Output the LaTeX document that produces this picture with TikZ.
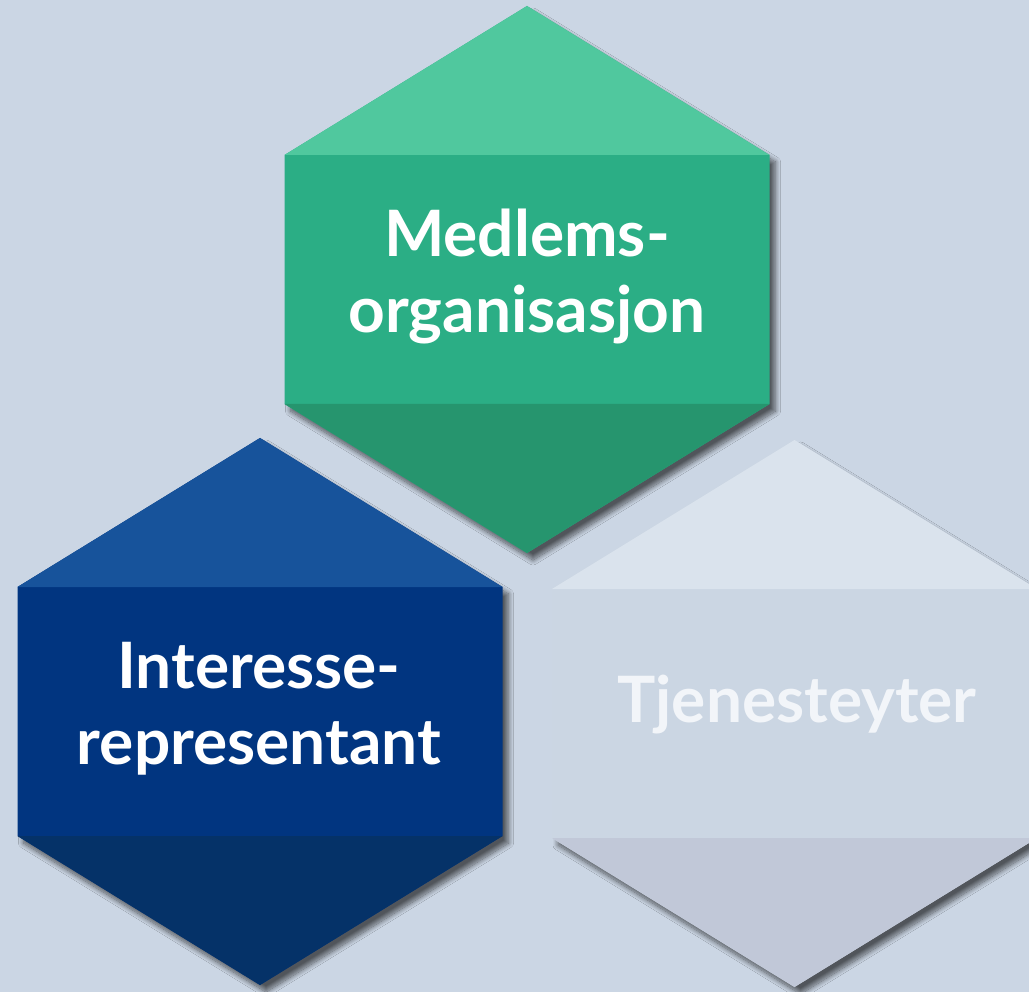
\documentclass[tikz,border=0pt]{standalone}
\usepackage{fontspec}
\setmainfont{Lato}
\usetikzlibrary{shadows.blur}
\definecolor{bg}{HTML}{CBD6E4}
\definecolor{gA}{HTML}{50C89E}
\definecolor{gB}{HTML}{2BAE85}
\definecolor{gC}{HTML}{26956E}
\definecolor{bA}{HTML}{17539B}
\definecolor{bB}{HTML}{013580}
\definecolor{bC}{HTML}{053268}
\definecolor{sA}{HTML}{DAE3ED}
\definecolor{sB}{HTML}{CBD6E3}
\definecolor{sC}{HTML}{C1C8D8}
\definecolor{paletext}{HTML}{F2F5F9}
\newcommand\hexcell[5]{%
  \fill[#4, blur shadow={shadow xshift=6pt, shadow yshift=-7pt, shadow blur radius=5pt, shadow blur steps=12, shadow opacity=60}]
    (#1,#2-149) -- (#1+242.5,#2) -- (#1+242.5,#2+249) -- (#1,#2+398) -- (#1-242.5,#2+249) -- (#1-242.5,#2) -- cycle;
  \fill[#3] (#1,#2-149) -- (#1+242.5,#2) -- (#1-242.5,#2) -- cycle;
  \fill[#5] (#1-242.5,#2+249) -- (#1+242.5,#2+249) -- (#1,#2+398) -- cycle;
}
\tikzset{hextext/.style={text=white, align=center, font=\fontsize{64}{76}\selectfont\bfseries, inner sep=0pt}}
\begin{document}
\begin{tikzpicture}[x=1pt,y=-1pt]
\clip (0,0) rectangle (1029,992);
\fill[bg] (0,0) rectangle (1029,992);
\hexcell{260}{587}{bA}{bB}{bC}
\hexcell{794.5}{589}{sA}{sB}{sC}
\hexcell{527}{155}{gA}{gB}{gC}
\node[hextext] (medlem) at (527,277) {Medlems-\\organisasjon};
\node[hextext] (interesse) at (259,709) {Interesse-\\representant};
\node[hextext, text=paletext] (tjeneste) at (797,705) {Tjenesteyter};
\end{tikzpicture}
\end{document}
